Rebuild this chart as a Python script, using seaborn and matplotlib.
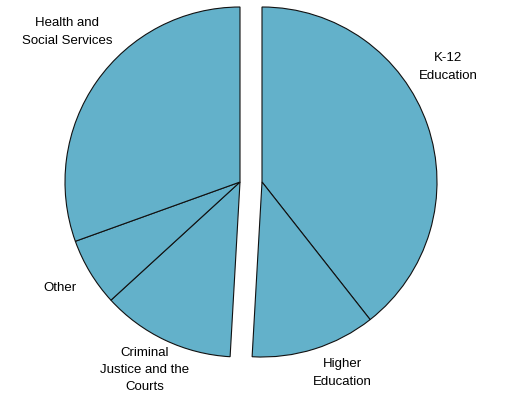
import matplotlib.pyplot as plt
import seaborn as sns

sns.set_style("white")
plt.rcParams["font.family"] = ["Liberation Sans", "DejaVu Sans"]

# shares of the budget (percent)
right_labels = ["K-12\nEducation", "Higher\nEducation"]
right_values = [39.4, 11.5]
left_labels = ["Criminal\nJustice and the\nCourts", "Other", "Health and\nSocial Services"]
left_values = [12.3, 6.3, 30.5]

fill = "#63b1ca"
wedge_style = {"edgecolor": "#111111", "linewidth": 0.8}
radius = 175

fig = plt.figure(figsize=(5.1, 4.04), dpi=100)
ax = fig.add_axes([0, 0, 1, 1])

# right group (pulled to the right)
ax.pie([v / 100 for v in right_values],
       normalize=False,
       colors=[fill] * len(right_values),
       startangle=90,
       counterclock=False,
       radius=radius,
       center=(262, 222),
       wedgeprops=wedge_style)

# left group picks up where the right one stops
left_start = 90 - 360 * sum(right_values) / 100
ax.pie([v / 100 for v in left_values],
       normalize=False,
       colors=[fill] * len(left_values),
       startangle=left_start,
       counterclock=False,
       radius=radius,
       center=(240, 222),
       wedgeprops=wedge_style)

label_pos = {
    "K-12\nEducation": (448, 337),
    "Higher\nEducation": (342, 31),
    "Criminal\nJustice and the\nCourts": (145, 34),
    "Other": (60, 116),
    "Health and\nSocial Services": (67, 372),
}
for text, (x, y) in label_pos.items():
    ax.text(x, y, text, ha="center", va="center", fontsize=9.5,
            linespacing=1.6, color="black")

ax.set_xlim(0, 510)
ax.set_ylim(0, 404)
ax.set_aspect("equal")
ax.axis("off")

fig.savefig("out.png", dpi=100)
